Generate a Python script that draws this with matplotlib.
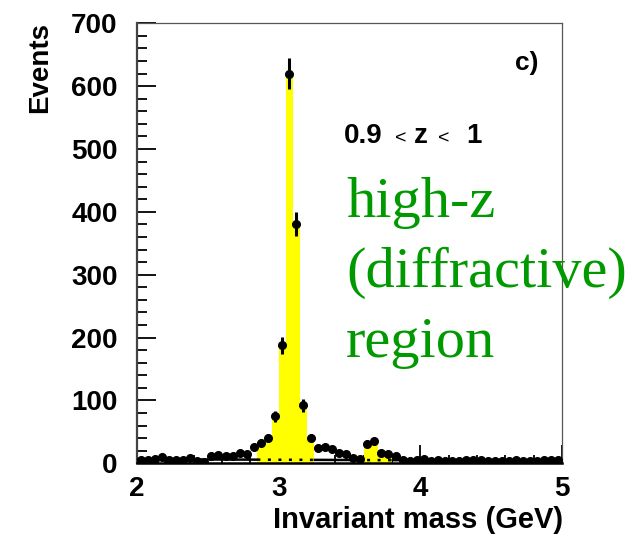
import numpy as np
import matplotlib
matplotlib.use("Agg")
import matplotlib.pyplot as plt
from matplotlib.ticker import MultipleLocator

# ---- data ----
bin_edges = np.round(np.arange(2.0, 5.0001, 0.05), 3)
counts = [6, 6, 7, 10, 5, 5, 5, 9, 4, 2,
          12, 13, 12, 12, 17, 14, 26, 33, 41, 75,
          188, 620, 381, 92, 41, 25, 26, 22, 16, 14,
          8, 7, 31, 35, 17, 15, 12, 6, 3, 6,
          7, 4, 5, 3, 3, 4, 6, 5, 5, 4,
          4, 4, 3, 6, 4, 3, 3, 6, 6, 6]
signal_windows = [(2.85, 3.25), (3.55, 3.80)]
bg_x = [2.0, 5.0]
bg_y = [6.5, 4.0]
x_ticks = [2, 3, 4, 5]
y_ticks = [0, 100, 200, 300, 400, 500, 600, 700]

counts = np.array(counts, dtype=float)
centers = 0.5 * (bin_edges[:-1] + bin_edges[1:])
width = 0.05

W, H = 637, 536
fig = plt.figure(figsize=(W / 100, H / 100), dpi=100)
ax = fig.add_axes([137 / W, 1 - 463.3 / H, (562 - 137) / W, (463.3 - 23.3) / H])

bold = dict(family="Liberation Sans", weight="bold")

# yellow signal-window histogram
for lo, hi in signal_windows:
    m = (centers > lo) & (centers < hi)
    ax.bar(centers[m], counts[m], width=width, color="#ffff00", edgecolor="none", zorder=2)

# background line: solid outside windows, dotted inside
xs = np.linspace(2.0, 5.0, 601)
ys = np.interp(xs, bg_x, bg_y)
inside = np.zeros_like(xs, dtype=bool)
for lo, hi in signal_windows:
    inside |= (xs >= lo) & (xs <= hi)
ys_out = np.where(inside, np.nan, ys)
ax.plot(xs, ys_out, color="black", lw=1.8, zorder=3)
for lo, hi in signal_windows:
    xx = np.linspace(lo, hi, 50)
    ax.plot(xx, np.interp(xx, bg_x, bg_y), color="black", lw=1.8,
            linestyle=(0, (1.2, 3.0)), zorder=3)

# data points with sqrt(N) errors
ax.errorbar(centers, counts, yerr=np.sqrt(counts), fmt="o", color="black",
            markersize=5.5, elinewidth=2.2, capsize=0, zorder=4)

ax.set_xlim(2, 5)
ax.set_ylim(0, 700)
ax.set_xticks(x_ticks)
ax.set_yticks(y_ticks)
ax.xaxis.set_minor_locator(MultipleLocator(0.2))
ax.yaxis.set_minor_locator(MultipleLocator(20))
ax.tick_params(axis="both", which="both", direction="in", top=False, right=False)
ax.tick_params(axis="x", which="major", length=13, width=1.3, pad=9)
ax.tick_params(axis="x", which="minor", length=6, width=1.3)
ax.tick_params(axis="y", which="major", length=14, width=1.3, pad=14)
ax.tick_params(axis="y", which="minor", length=7.5, width=1.3)
for lab in ax.get_xticklabels() + ax.get_yticklabels():
    lab.set_fontfamily("Liberation Sans")
    lab.set_fontweight("bold")
    lab.set_fontsize(20)

ax.spines["left"].set_linewidth(1.6)
ax.spines["left"].set_color("#444444")
ax.spines["bottom"].set_linewidth(1.8)
ax.spines["bottom"].set_color("black")
for s in ("top", "right"):
    ax.spines[s].set_linewidth(0.9)
    ax.spines[s].set_color("#555555")

# axis titles
fig.text(563 / W, 1 - 528 / H, "Invariant mass (GeV)", ha="right", va="baseline",
         fontsize=21, **bold)
fig.text(40 / W, 1 - 22 / H, "Events", rotation=90, ha="center", va="top",
         fontsize=20, **bold)

# annotations
fig.text(538 / W, 1 - 70 / H, "c)", ha="right", va="baseline", fontsize=19, **bold)
base = 1 - 143 / H
fig.text(344 / W, base, "0.9", ha="left", va="baseline", fontsize=20, **bold)
fig.text(401 / W, base, "<", ha="center", va="baseline", fontsize=14, family="Liberation Sans")
fig.text(421 / W, base, "z", ha="center", va="baseline", fontsize=20, **bold)
fig.text(444 / W, base, "<", ha="center", va="baseline", fontsize=14, family="Liberation Sans")
fig.text(474 / W, base, "1", ha="center", va="baseline", fontsize=20, **bold)

green = "#009a00"
for txt, yb in (("high-z", 217), ("(diffractive)", 287), ("region", 357)):
    fig.text(346 / W, 1 - yb / H, txt, ha="left", va="baseline", fontsize=42,
             family="Liberation Serif", color=green)

fig.savefig("out.png", dpi=100)
